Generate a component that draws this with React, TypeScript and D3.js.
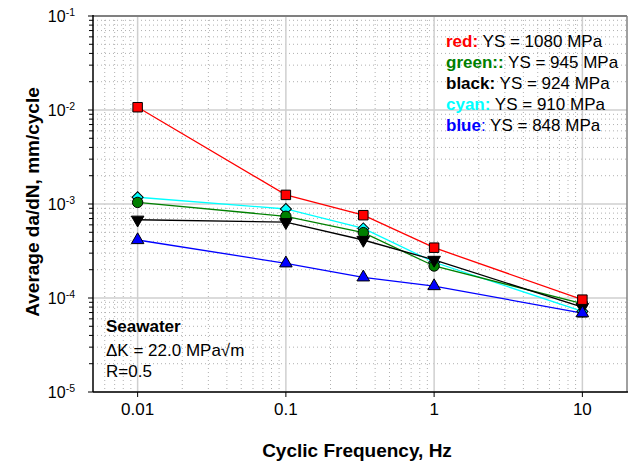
import React from "react";
import * as d3 from "d3";

const frequencies = [0.01, 0.1, 0.333, 1, 10];
const redValues = [0.0107, 0.00125, 0.00076, 0.000343, 0.000096];
const greenValues = [0.00104, 0.00074, 0.000496, 0.000219, 0.000087];
const blackValues = [0.00068, 0.00064, 0.000414, 0.000254, 0.00008];
const cyanValues = [0.00118, 0.000885, 0.00055, 0.000240, 0.000072];
const blueValues = [0.000414, 0.000234, 0.000166, 0.000134, 0.000069];
const cyanErrLow = [null, null, null, null, 0.000063];

const xTicks = [0.01, 0.1, 1, 10];
const xTickLabels = ["0.01", "0.1", "1", "10"];
const yTicks = [1e-5, 1e-4, 1e-3, 1e-2, 1e-1];
const yTickExp = ["-5", "-4", "-3", "-2", "-1"];

const legendLabels = ["red:", "green::", "black:", "cyan:", "blue"];
const legendTexts = [" YS = 1080 MPa", " YS = 945 MPa", " YS = 924 MPa", " YS = 910 MPa", " YS = 848 MPa"];

const W = 636, H = 465;
const L = 93, R = 627, T = 16, B = 392;

export default function App() {
  const x = d3.scaleLog().domain([0.005, 20]).range([L, R]);
  const y = d3.scaleLog().domain([1e-5, 1e-1]).range([B, T]);

  const minorX: number[] = [];
  for (const dec of [0.001, 0.01, 0.1, 1, 10]) {
    for (let k = 2; k <= 9; k++) {
      const v = dec * k;
      if (v > 0.005 && v < 20) minorX.push(v);
    }
  }
  const minorY: number[] = [];
  for (const dec of [1e-5, 1e-4, 1e-3, 1e-2]) {
    for (let k = 2; k <= 9; k++) minorY.push(dec * k);
  }

  const line = d3.line<[number, number]>().x(d => x(d[0])).y(d => y(d[1]));
  const pts = (vals: number[]) => frequencies.map((f, i) => [f, vals[i]] as [number, number]);

  const sq = d3.symbol().type(d3.symbolSquare).size(90)();
  const circ = d3.symbol().type(d3.symbolCircle).size(85)();
  const tri = d3.symbol().type(d3.symbolTriangle).size(68)();
  const diam = d3.symbol().type(d3.symbolSquare).size(62)();

  const series = [
    { vals: cyanValues, color: "#00ffff", fill: "#00ffff", sym: diam, rot: 45 },
    { vals: greenValues, color: "#008000", fill: "#008000", sym: circ, rot: 0 },
    { vals: blackValues, color: "#000000", fill: "#000000", sym: tri, rot: 180 },
    { vals: blueValues, color: "#0000ff", fill: "#0000ff", sym: tri, rot: 0 },
    { vals: redValues, color: "#ff0000", fill: "#ff0000", sym: sq, rot: 0 },
  ];

  const legendColors = ["#ff0000", "#008000", "#000000", "#00ffff", "#0000ff"];
  const font = "'Liberation Sans', Arial, sans-serif";

  return (
    <svg width={W} height={H} style={{ position: "absolute", left: 0, top: 0, background: "#fff" }} fontFamily={font}>
      {/* minor grid */}
      {minorX.map((v, i) => (
        <line key={"mx" + i} x1={x(v)} x2={x(v)} y1={T} y2={B} stroke="#b0b0b0" strokeWidth={1} strokeDasharray="1 3" />
      ))}
      {minorY.map((v, i) => (
        <line key={"my" + i} x1={L} x2={R} y1={y(v)} y2={y(v)} stroke="#b0b0b0" strokeWidth={1} strokeDasharray="1 3" />
      ))}
      {/* major grid */}
      {xTicks.map((v, i) => (
        <line key={"gx" + i} x1={x(v)} x2={x(v)} y1={T} y2={B} stroke="#cfcfcf" strokeWidth={1.5} />
      ))}
      {yTicks.map((v, i) => (
        <line key={"gy" + i} x1={L} x2={R} y1={y(v)} y2={y(v)} stroke="#cfcfcf" strokeWidth={1.5} />
      ))}
      {/* frame */}
      <line x1={L} x2={R} y1={T} y2={T} stroke="#808080" strokeWidth={2} />
      <line x1={R} x2={R} y1={T} y2={B} stroke="#808080" strokeWidth={1.5} />

      {/* series lines */}
      {series.map((s, i) => (
        <path key={"l" + i} d={line(pts(s.vals)) || ""} fill="none" stroke={s.color} strokeWidth={1.3} />
      ))}
      {/* error bar */}
      {frequencies.map((f, i) =>
        cyanErrLow[i] != null ? (
          <g key={"e" + i}>
            <line x1={x(f)} x2={x(f)} y1={y(cyanValues[i])} y2={y(cyanErrLow[i] as number)} stroke="#000" strokeWidth={1.2} />
            <line x1={x(f) - 5} x2={x(f) + 5} y1={y(cyanErrLow[i] as number)} y2={y(cyanErrLow[i] as number)} stroke="#000" strokeWidth={1.2} />
          </g>
        ) : null
      )}
      {/* markers */}
      {series.map((s, i) => (
        <g key={"m" + i}>
          {pts(s.vals).map((p, j) => (
            <path
              key={j}
              d={s.sym || ""}
              transform={`translate(${x(p[0])},${y(p[1])}) rotate(${s.rot})`}
              fill={s.fill}
              stroke="#000"
              strokeWidth={1}
            />
          ))}
        </g>
      ))}

      {/* axes */}
      <line x1={L} x2={L} y1={T - 1} y2={B} stroke="#000" strokeWidth={1.5} />
      <line x1={L} x2={R + 1} y1={B} y2={B} stroke="#000" strokeWidth={1.5} />
      {minorY.map((v, i) => (
        <line key={"ty" + i} x1={L - 4} x2={L} y1={y(v)} y2={y(v)} stroke="#000" strokeWidth={1} />
      ))}
      {yTicks.map((v, i) => (
        <g key={"yt" + i}>
          <line x1={L - 5} x2={L} y1={y(v)} y2={y(v)} stroke="#000" strokeWidth={1} />
          <text x={75} y={y(v) + 6} fontSize={16} textAnchor="end" fill="#000">
            10<tspan dy={-6} fontSize={10.5}>{yTickExp[i]}</tspan>
          </text>
        </g>
      ))}
      {xTicks.map((v, i) => (
        <g key={"xt" + i}>
          <line x1={x(v)} x2={x(v)} y1={B} y2={B + 5} stroke="#000" strokeWidth={1} />
          <text x={x(v)} y={415} fontSize={17} textAnchor="middle" fill="#000">
            {xTickLabels[i]}
          </text>
        </g>
      ))}

      {/* axis titles */}
      <text x={357} y={457} fontSize={19} fontWeight="bold" textAnchor="middle" fill="#000">
        Cyclic Frequency, Hz
      </text>
      <text transform={`translate(39,202) rotate(-90)`} fontSize={19} fontWeight="bold" textAnchor="middle" fill="#000">
        Average da/dN, mm/cycle
      </text>

      {/* legend */}
      {legendLabels.map((lab, i) => (
        <text key={"lg" + i} x={446} y={47 + i * 21} fontSize={17} fill="#000">
          <tspan fill={legendColors[i]} fontWeight="bold">{lab}</tspan>
          {i === 4 ? <tspan fill={legendColors[i]}>:</tspan> : null}
          <tspan>{legendTexts[i]}</tspan>
        </text>
      ))}

      {/* annotation */}
      <text x={106} y={332} fontSize={17} fontWeight="bold" fill="#000">Seawater</text>
      <text x={106} y={356} fontSize={17} fill="#000">ΔK = 22.0 MPa√m</text>
      <text x={106} y={377} fontSize={17} fill="#000">R=0.5</text>
    </svg>
  );
}
